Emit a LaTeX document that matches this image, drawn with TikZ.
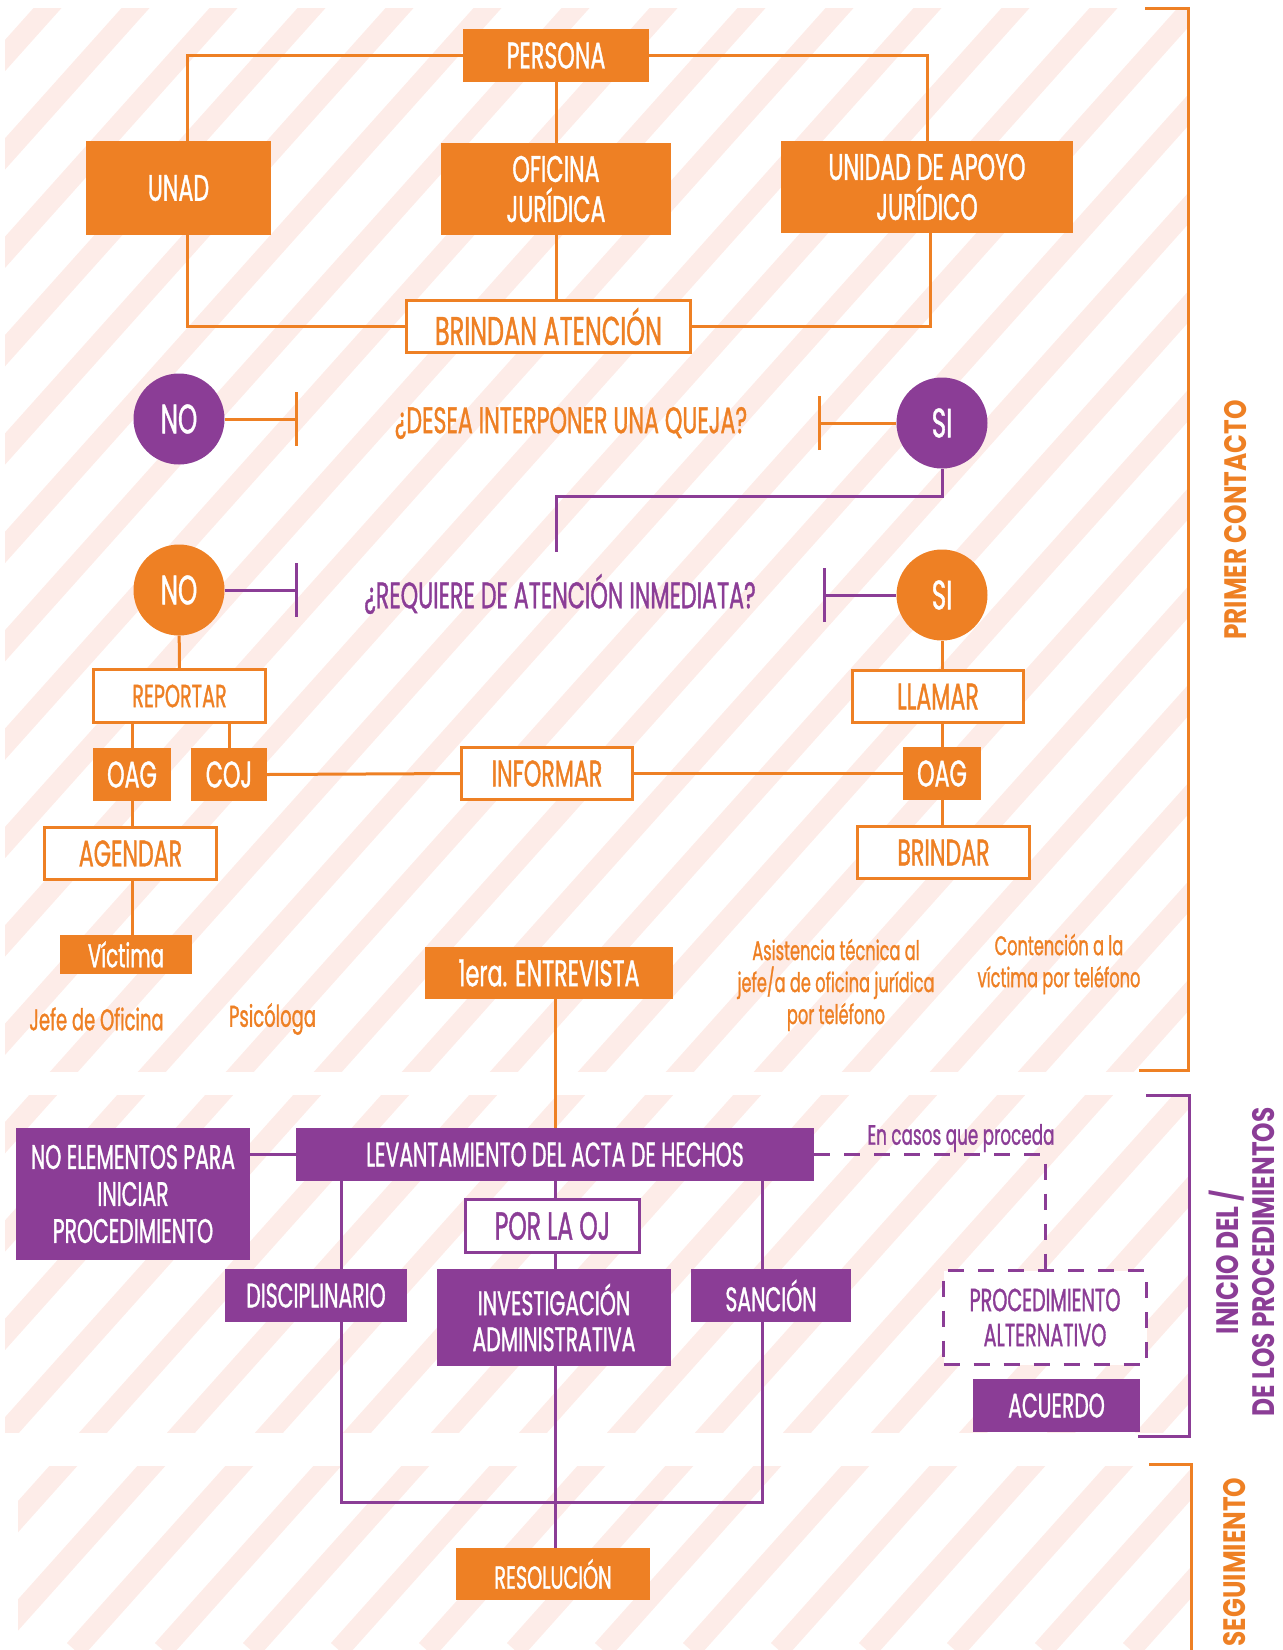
\documentclass[tikz,border=0pt]{standalone}
\usepackage{fontspec}
\setmainfont{Poppins}[FakeStretch=0.6, FakeBold=1]
\newfontfamily\etiqfont{Poppins}[FakeStretch=0.8]
\usetikzlibrary{arrows.meta}
\definecolor{naranja}{RGB}{238,128,36}
\definecolor{morado}{RGB}{139,61,150}
\definecolor{rosa}{RGB}{253,236,232}
\pgfdeclarelayer{rayas}
\pgfdeclarelayer{lineas}
\pgfsetlayers{rayas,lineas,main}
\newcommand{\fsz}[2]{\fontsize{#1}{#2}\selectfont}

\begin{document}
\begin{tikzpicture}[x=1pt, y=-1pt,
  caja/.style={rectangle, inner sep=0pt, align=center, text=white},
  cajaN/.style={caja, fill=naranja},
  cajaM/.style={caja, fill=morado},
  marcoN/.style={rectangle, inner sep=0pt, align=center, draw=naranja, line width=3pt, fill=white, text=naranja},
  marcoM/.style={rectangle, inner sep=0pt, align=center, draw=morado, line width=3pt, fill=white, text=morado},
  circN/.style={circle, inner sep=0pt, minimum size=91pt, fill=naranja, text=white, font=\fsz{41}{41}},
  circM/.style={circle, inner sep=0pt, minimum size=91pt, fill=morado, text=white, font=\fsz{41}{41}},
  linN/.style={draw=naranja, line width=3pt},
  linM/.style={draw=morado, line width=3pt},
  tope/.style={-{Bar[width=54pt]}},
  etapa/.style={rotate=90, inner sep=0pt, align=center}]
  \useasboundingbox (0,0) rectangle (1283,1650);

  % fondo rayado
  \begin{pgfonlayer}{rayas}
  \foreach \xa/\ya/\xb/\yb in {5/8/1188/1071, 5/1095/1189/1432, 18/1466/1191/1650} {
    \begin{scope}
      \clip (\xa,\ya) rectangle (\xb,\yb);
      \foreach \k in {-1,...,33}
        \draw[rosa, line width=20.9pt] (54.7+88*\k,0) -- ++(-1476,1650);
    \end{scope}
  }
  \end{pgfonlayer}

  % primer contacto
  \node[cajaN, minimum width=186pt, minimum height=53pt, font=\fsz{37}{40}] (persona) at (556,55.5) {PERSONA};
  \node[cajaN, minimum width=185pt, minimum height=94pt, font=\fsz{37}{40}] (unad) at (178.5,188) {UNAD};
  \node[cajaN, minimum width=230pt, minimum height=92pt, font=\fsz{37}{40}] (ofi) at (556,189) {OFICINA\\JURÍDICA};
  \node[cajaN, minimum width=292pt, minimum height=92pt, font=\fsz{37}{40}] (unidad) at (927,187) {UNIDAD DE APOYO\\JURÍDICO};
  \node[marcoN, minimum width=284pt, minimum height=52pt, font=\fsz{40}{40}] (brindan) at (548.5,326.5) {BRINDAN ATENCIÓN};

  \node[circM] (no1) at (179,419) {NO};
  \node[circM] (si1) at (942,423) {SI};
  \node[text=naranja, font=\fsz{37}{40}] (queja) at (571,423) {¿DESEA INTERPONER UNA QUEJA?};
  \coordinate (b1) at (298,419);
  \coordinate (b2) at (818,423);

  \node[circN] (no2) at (179,590) {NO};
  \node[circN] (si2) at (942,595) {SI};
  \node[text=morado, font=\fsz{37}{40}] (atencion) at (560,594) {¿REQUIERE DE ATENCIÓN INMEDIATA?};
  \coordinate (b3) at (298,590);
  \coordinate (b4) at (823,595);
  \coordinate (kink) at (556,496);
  \coordinate (qtop) at (556,552);

  \node[marcoN, minimum width=172pt, minimum height=53pt, font=\fsz{32}{32}] (reportar) at (179.5,696) {REPORTAR};
  \node[cajaN, minimum width=78pt, minimum height=53pt, font=\fsz{37}{37}] (oagL) at (132,774.5) {OAG};
  \node[cajaN, minimum width=76pt, minimum height=53pt, font=\fsz{37}{37}] (coj) at (229,774.5) {COJ};
  \node[marcoN, minimum width=171pt, minimum height=52pt, font=\fsz{37}{37}] (informar) at (547,773.5) {INFORMAR};
  \node[marcoN, minimum width=172pt, minimum height=52pt, font=\fsz{37}{37}] (agendar) at (130.5,853.5) {AGENDAR};
  \node[cajaN, minimum width=132pt, minimum height=39pt, font=\fsz{33}{33}] (victima) at (126,954.5) {Víctima};
  \node[text=naranja, font=\fsz{30}{30}] (jefe) at (96.5,1019) {Jefe de Oficina};
  \node[text=naranja, font=\fsz{30}{30}] (psico) at (272.5,1019) {Psicóloga};

  \node[marcoN, minimum width=171pt, minimum height=52pt, font=\fsz{37}{37}] (llamar) at (938,696.5) {LLAMAR};
  \node[cajaN, minimum width=78pt, minimum height=53pt, font=\fsz{37}{37}] (oagR) at (942,773.5) {OAG};
  \node[marcoN, minimum width=172pt, minimum height=52pt, font=\fsz{37}{37}] (brindar) at (943.5,852.5) {BRINDAR};
  \node[cajaN, minimum width=248pt, minimum height=52pt, font=\fsz{37}{37}] (entrevista) at (549,973) {1era. ENTREVISTA};
  \node[text=naranja, align=center, font=\fsz{27}{32}] (asistencia) at (836,985) {Asistencia técnica al\\jefe/a de oficina jurídica\\por teléfono};
  \node[text=naranja, align=center, font=\fsz{27}{32}] (contencion) at (1059,964) {Contención a la\\víctima por teléfono};

  % inicio de los procedimientos
  \node[cajaM, minimum width=234pt, minimum height=132pt, font=\fsz{34}{37}] (noelem) at (133,1194) {NO ELEMENTOS PARA\\INICIAR\\PROCEDIMIENTO};
  \node[cajaM, minimum width=518pt, minimum height=53pt, font=\fsz{34}{34}] (levant) at (555,1154.5) {LEVANTAMIENTO DEL ACTA DE HECHOS};
  \node[marcoM, minimum width=174pt, minimum height=53pt, font=\fsz{39}{39}] (porlaoj) at (552.5,1226) {POR LA OJ};
  \node[cajaM, minimum width=182pt, minimum height=53pt, font=\fsz{34}{34}] (discip) at (316,1295.5) {DISCIPLINARIO};
  \node[cajaM, minimum width=234pt, minimum height=97pt, font=\fsz{34}{36}] (investig) at (554,1317.5) {INVESTIGACIÓN\\ADMINISTRATIVA};
  \node[cajaM, minimum width=160pt, minimum height=53pt, font=\fsz{34}{34}] (sancion) at (771,1295.5) {SANCIÓN};
  \node[marcoM, dash pattern=on 16pt off 14pt, minimum width=203pt, minimum height=94pt, font=\fsz{32}{35}] (procalt) at (1045,1317.5) {PROCEDIMIENTO\\ALTERNATIVO};
  \node[cajaM, minimum width=167pt, minimum height=53pt, font=\fsz{34}{34}] (acuerdo) at (1056.5,1405.5) {ACUERDO};
  \node[text=morado, font=\fsz{28}{28}] (casos) at (961,1138) {En casos que proceda};
  \node[cajaN, minimum width=194pt, minimum height=52pt, font=\fsz{32}{32}] (resol) at (553,1574) {RESOLUCIÓN};
  \coordinate (lowL) at (341,1502);
  \coordinate (lowR) at (762,1502);

  % corchetes de etapas
  \coordinate (pc1) at (1145,8);
  \coordinate (pc2) at (1188,1070);
  \coordinate (pc3) at (1139,1070);
  \coordinate (ip1) at (1146,1095);
  \coordinate (ip2) at (1189,1436);
  \coordinate (ip3) at (1138,1436);
  \coordinate (sg1) at (1149,1464);
  \coordinate (sg2) at (1191,1652);
  \draw[linN] (pc1) -| (pc2) -- (pc3);
  \draw[linM] (ip1) -| (ip2) -- (ip3);
  \draw[linN] (sg1) -| (sg2);
  \node[etapa, text=naranja, font=\etiqfont\bfseries\fsz{31}{31}] (primer) at (1236,520) {PRIMER CONTACTO};
  \node[etapa, text=morado, font=\etiqfont\bfseries\fsz{31}{36}] (inicio) at (1242,1262) {INICIO DEL /\\DE LOS PROCEDIMIENTOS};
  \node[etapa, text=naranja, font=\etiqfont\bfseries\fsz{31}{31}] (seguim) at (1235,1562) {SEGUIMIENTO};

  % conectores
  \begin{pgfonlayer}{lineas}
  \draw[linN] (persona.west) -| ([xshift=9]unad.north);
  \draw[linN] ([xshift=9]unad.south) |- (brindan.west);
  \draw[linN] (persona) -- (ofi);
  \draw[linN] (ofi) -- (ofi |- brindan.north);
  \draw[linN] (persona.east) -| (unidad.north);
  \draw[linN] ([xshift=3]unidad.south) |- (brindan.east);
  \draw[linN, tope] (no1) -- (b1);
  \draw[linN, tope] (si1) -- (b2);
  \draw[linM] (si1.south) |- (kink) -- (qtop);
  \draw[linM, tope] (no2) -- (b3);
  \draw[linM, tope] (si2) -- (b4);
  \draw[linN] (no2) -- (reportar);
  \draw[linN] (reportar.south -| oagL) -- (oagL);
  \draw[linN] (reportar.south -| coj) -- (coj);
  \draw[linN] (coj.east) -- (informar.west);
  \draw[linN] (informar.east) -- (informar.east -| oagR.west);
  \draw[linN] (oagL) -- (oagL |- agendar.north);
  \draw[linN] (agendar.south -| oagL) -- (victima.north -| oagL);
  \draw[linN] (si2) -- (llamar.north -| si2);
  \draw[linN] (llamar.south -| oagR) -- (oagR);
  \draw[linN] (oagR) -- (brindar.north -| oagR);
  \draw[linN] (entrevista.south -| levant) -- (levant);
  \draw[linM] (noelem.east |- levant) -- (levant.west);
  \draw[linM] (levant.south -| lowL) -- (lowL) -- (lowR) -- (levant.south -| lowR);
  \draw[linM] (levant) -- (resol.north -| levant);
  \draw[linM, dash pattern=on 16pt off 14pt] (levant.east) -| (procalt.north);
  \end{pgfonlayer}
\end{tikzpicture}
\end{document}
